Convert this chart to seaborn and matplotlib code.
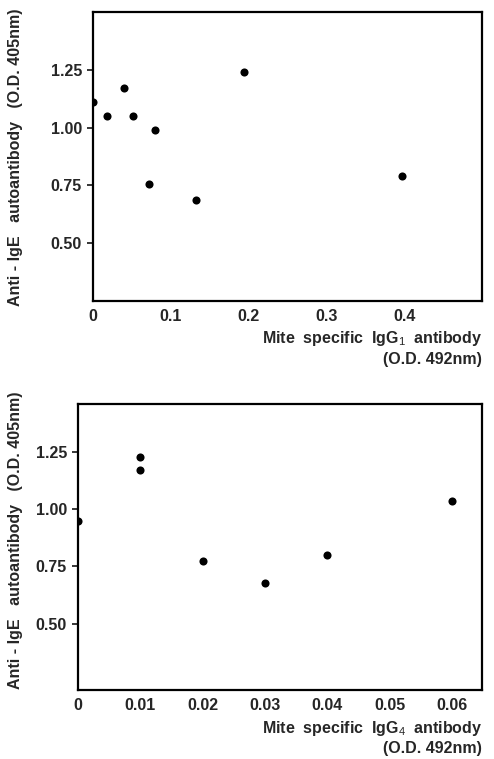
import matplotlib
matplotlib.use("Agg")
import matplotlib.pyplot as plt
import seaborn as sns
import pandas as pd

# Panel 1: IgG1
igg1_x = [0.0, 0.018, 0.040, 0.051, 0.080, 0.072, 0.132, 0.194, 0.397]
igg1_y = [1.11, 1.05, 1.17, 1.05, 0.99, 0.757, 0.689, 1.24, 0.789]
# Panel 2: IgG4
igg4_x = [0.0, 0.01, 0.01, 0.02, 0.03, 0.04, 0.06]
igg4_y = [0.946, 1.225, 1.169, 0.773, 0.676, 0.798, 1.036]

x1_ticks = [0, 0.1, 0.2, 0.3, 0.4]
x1_labels = ["0", "0.1", "0.2", "0.3", "0.4"]
x4_ticks = [0, 0.01, 0.02, 0.03, 0.04, 0.05, 0.06]
x4_labels = ["0", "0.01", "0.02", "0.03", "0.04", "0.05", "0.06"]
y_ticks = [0.50, 0.75, 1.00, 1.25]
y_labels = ["0.50", "0.75", "1.00", "1.25"]

ylabel = "Anti - IgE   autoantibody   (O.D. 405nm)"
xl1 = "Mite  specific  IgG$_{1}$  antibody"
xl4 = "Mite  specific  IgG$_{4}$  antibody"
xunit = "(O.D. 492nm)"

sns.set_style("ticks")
plt.rcParams['font.family'] = ['Liberation Sans', 'DejaVu Sans']
plt.rcParams['mathtext.fontset'] = 'custom'
plt.rcParams['mathtext.rm'] = 'Liberation Sans'
plt.rcParams['mathtext.it'] = 'Liberation Sans'
plt.rcParams['mathtext.bf'] = 'Liberation Sans:bold'

W, H = 494, 759
fig = plt.figure(figsize=(W / 100, H / 100), dpi=100)

def box(l, t, r, b):
    return [l / W, 1 - b / H, (r - l) / W, (b - t) / H]

ax1 = fig.add_axes(box(93, 12, 482, 301))
ax2 = fig.add_axes(box(78, 404, 482, 690))

df1 = pd.DataFrame({"x": igg1_x, "y": igg1_y})
df4 = pd.DataFrame({"x": igg4_x, "y": igg4_y})

FS = 11.5

for ax, df, xt, xlab, xlim, ylim in [
    (ax1, df1, x1_ticks, x1_labels, (0, 0.5), (0.25, 1.5)),
    (ax2, df4, x4_ticks, x4_labels, (0, 0.0648), (0.21, 1.458)),
]:
    sns.scatterplot(data=df, x="x", y="y", ax=ax, color="black", s=34,
                    edgecolor="black", linewidth=0, zorder=3)
    ax.set_xlim(*xlim)
    ax.set_ylim(*ylim)
    ax.set_xticks(xt)
    ax.set_xticklabels(xlab, fontsize=FS, fontweight="bold")
    ax.set_yticks(y_ticks)
    ax.set_yticklabels(y_labels, fontsize=FS, fontweight="bold")
    ax.set_xlabel("")
    ax.set_ylabel("")
    ax.tick_params(axis="x", length=0, pad=6)
    ax.tick_params(axis="y", length=4, width=1.3, pad=4, direction="out")
    for sp in ax.spines.values():
        sp.set_visible(True)
        sp.set_linewidth(1.6)
        sp.set_color("black")

# x labels
fig.text(482 / W, 1 - 338 / H, xl1, ha="right", va="center", fontsize=FS, fontweight="bold")
fig.text(482 / W, 1 - 359 / H, xunit, ha="right", va="center", fontsize=FS, fontweight="bold")
fig.text(482 / W, 1 - 729 / H, xl4, ha="right", va="center", fontsize=FS, fontweight="bold")
fig.text(482 / W, 1 - 749 / H, xunit, ha="right", va="center", fontsize=FS, fontweight="bold")

# y labels
fig.text(16 / W, 1 - 157 / H, ylabel, rotation=90, ha="center", va="center",
         fontsize=FS, fontweight="bold")
fig.text(16 / W, 1 - 540 / H, ylabel, rotation=90, ha="center", va="center",
         fontsize=FS, fontweight="bold")

fig.savefig("out.png", dpi=100)
